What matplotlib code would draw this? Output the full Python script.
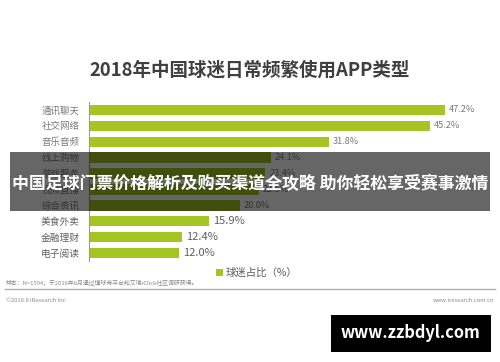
import matplotlib
matplotlib.use("Agg")
import matplotlib.pyplot as plt
from matplotlib.patches import Rectangle
from matplotlib.lines import Line2D

plt.rcParams['font.family'] = ['Noto Sans CJK SC', 'DejaVu Sans']

categories = ["通讯聊天", "社交网络", "音乐音频", "线上购物", "游戏服务",
              "视频直播", "综合资讯", "美食外卖", "金融理财", "电子阅读"]
values = [47.2, 45.2, 31.8, 24.1, 23.4, 22.5, 20.0, 15.9, 12.4, 12.0]
series_name = "球迷占比（%）"
title = "2018年中国球迷日常频繁使用APP类型"
banner = "中国足球门票价格解析及购买渠道全攻略 助你轻松享受赛事激情"
note = "样本：N=1594；于2018年8月通过懂球帝平台和艾瑞iClick社区调研获得。"
copyright_txt = "©2018.9 iResearch Inc"
site_txt = "www.iresearch.com.cn"
watermark = "www.zzbdyl.com"

W, H = 500, 362
fig = plt.figure(figsize=(W / 100, H / 100), dpi=100)
fig.patch.set_facecolor("white")

def fx(px):
    return px / W

def fy(py):
    return 1 - py / H

# axes: x from 89px, 7.54 px per %, rows 110..253
x0, x1 = 89, 89 + 50 * 7.54
y_top, y_bot = 102, 261
ax = fig.add_axes([fx(x0), fy(y_bot), fx(x1) - fx(x0), (y_bot - y_top) / H])
bar_color = "#a6c424"
pos = list(range(len(categories)))
bars = ax.barh(pos, values, height=0.66, color=bar_color, label=series_name)
ax.set_ylim(len(categories) - 0.5, -0.5)
ax.set_xlim(0, 50)
ax.set_yticks(pos)
ax.set_yticklabels(categories)
for i, lab in enumerate(ax.get_yticklabels()):
    lab.set_fontsize(6.8 if i < 7 else 7.0)
    lab.set_color("#7a7a7a" if i < 7 else "#606060")
ax.tick_params(axis="y", length=0, pad=7)
ax.set_xticks([])
for s in ["top", "right", "bottom"]:
    ax.spines[s].set_visible(False)
ax.spines["left"].set_color("#9a9a9a")
ax.spines["left"].set_linewidth(0.8)
ax.set_facecolor("none")
for i, (b, v) in enumerate(zip(bars, values)):
    ax.text(v + 0.5, b.get_y() + b.get_height() / 2, f"{v:.1f}%",
            va="center", ha="left", fontsize=6.6 if i < 7 else 8.0,
            color="#7a7a7a" if i < 7 else "#606060")

# title
fig.text(0.5, fy(70), title, ha="center", va="center", fontsize=13.3,
         fontweight="bold", color="#3f3f3f")

# legend
fig.legend(handles=[bars], labels=[series_name], loc="center",
           bbox_to_anchor=(fx(257), fy(273)), frameon=False, fontsize=7.5,
           handlelength=0.6, handleheight=0.6, handletextpad=0.3,
           labelcolor="#595959")

# footnote
fig.text(fx(6), fy(283), note, ha="left", va="center", fontsize=4.2, color="#8a8a8a")
fig.add_artist(Line2D([fx(5), fx(495)], [fy(289), fy(289)], color="#b0b0b0",
                      lw=1.0, transform=fig.transFigure))
fig.text(fx(6), fy(300), copyright_txt, ha="left", va="center", fontsize=4.2, color="#8a8a8a")
fig.text(fx(494), fy(300), site_txt, ha="right", va="center", fontsize=4.2, color="#8a8a8a")

# banner overlay
fig.add_artist(Rectangle((fx(10), fy(211)), fx(490) - fx(10), (211 - 152) / H,
                         transform=fig.transFigure, facecolor="black", alpha=0.6,
                         edgecolor="none", zorder=10))
fig.text(0.5, fy(184), banner, ha="center", va="center", fontsize=12.2,
         fontweight="bold", color="white", zorder=11)

# watermark box
fig.add_artist(Rectangle((fx(331), fy(352)), fx(491) - fx(331), (352 - 315) / H,
                         transform=fig.transFigure, facecolor="black",
                         edgecolor="none", zorder=10))
fig.text(fx(410), fy(333.5), watermark, ha="center", va="center", fontsize=11.8,
         fontweight="bold", color="white", zorder=11)

fig.savefig("out.png", dpi=100)
